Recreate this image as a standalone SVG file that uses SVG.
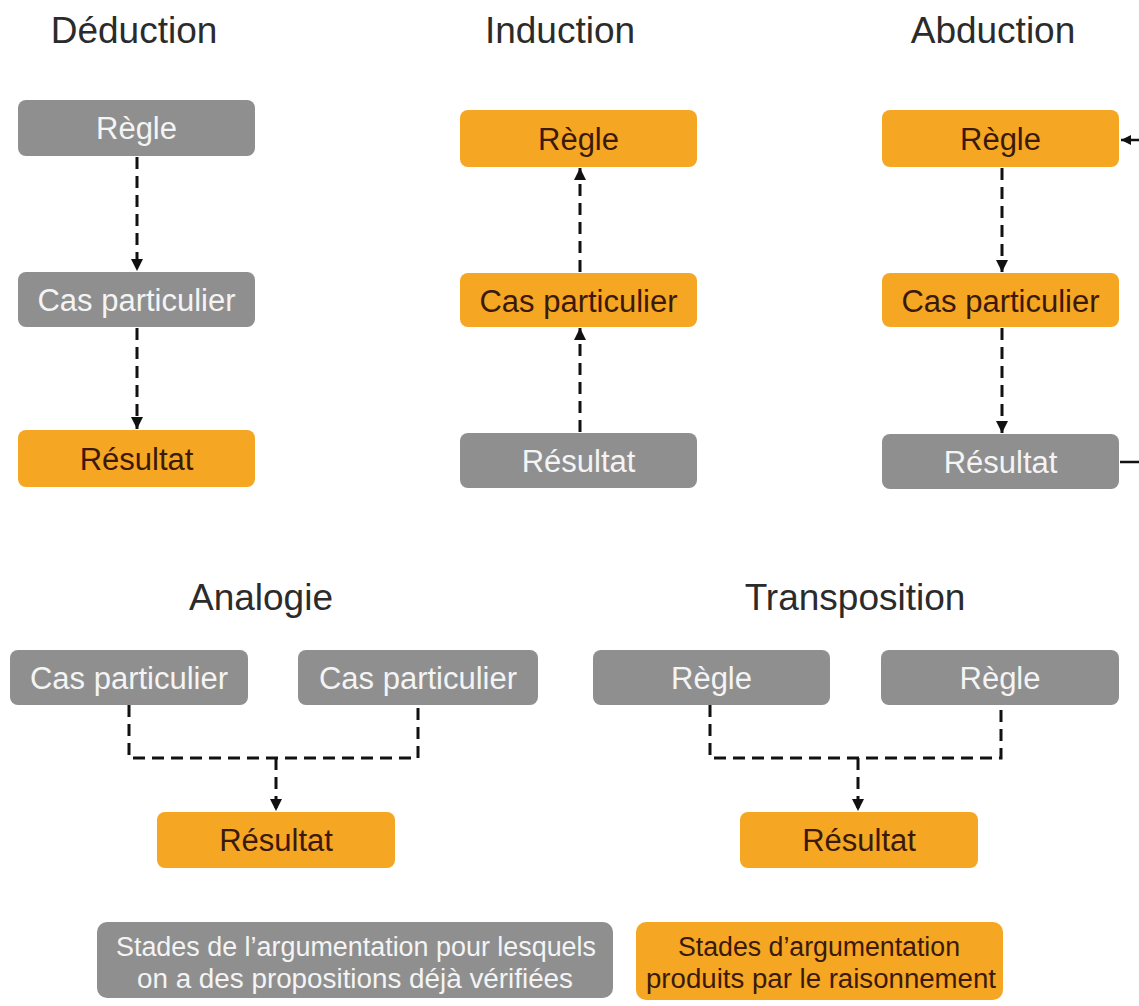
<svg xmlns="http://www.w3.org/2000/svg" width="1139" height="1006" viewBox="0 0 1139 1006">
  <style>
    .title { font-family: "Liberation Sans", Arial, sans-serif; font-size: 37px; fill: #2b2b2b; text-anchor: middle; }
    .box-g { fill: #8f8f8f; }
    .box-o { fill: #f5a623; }
    .lbl { font-family: "Liberation Sans", Arial, sans-serif; font-size: 31px; text-anchor: middle; }
    .lbl-g { fill: #f4f4f4; }
    .lbl-o { fill: #3b1a0c; }
    .leg { font-family: "Liberation Sans", Arial, sans-serif; font-size: 27px; text-anchor: middle; }
    .dash { fill: none; stroke: #111; stroke-width: 3; stroke-dasharray: 12 7; }
    .solid { fill: none; stroke: #111; stroke-width: 2.5; }
  </style>
  <defs>
    <marker id="arrow" viewBox="0 0 10 10" refX="10" refY="5" markerWidth="4" markerHeight="4" orient="auto" markerUnits="strokeWidth">
      <path d="M0,0 L10,5 L0,10 z" fill="#111"/>
    </marker>
  </defs>

  <rect width="1139" height="1006" fill="#ffffff"/>

  <!-- section titles -->
  <text class="title" x="134" y="43">Déduction</text>
  <text class="title" x="560" y="43">Induction</text>
  <text class="title" x="993" y="43">Abduction</text>
  <text class="title" x="261" y="610">Analogie</text>
  <text class="title" x="855" y="610">Transposition</text>

  <!-- connectors -->
  <g id="connectors">
    <!-- Déduction -->
    <path class="dash" d="M137,157 V271" marker-end="url(#arrow)"/>
    <path class="dash" d="M137,328 V429" marker-end="url(#arrow)"/>
    <!-- Induction -->
    <path class="dash" d="M580,432 V328" marker-end="url(#arrow)"/>
    <path class="dash" d="M580,272 V168" marker-end="url(#arrow)"/>
    <!-- Abduction -->
    <path class="dash" d="M1002,168 V272" marker-end="url(#arrow)"/>
    <path class="dash" d="M1002,328 V433" marker-end="url(#arrow)"/>
    <path class="solid" d="M1120,462 H1141 V140 H1121" marker-end="url(#arrow)"/>
    <!-- Analogie -->
    <path class="dash" d="M129,705 V758 H418 V705"/>
    <path class="dash" d="M276,758 V811" marker-end="url(#arrow)"/>
    <!-- Transposition -->
    <path class="dash" d="M710,705 V758 H1001 V705"/>
    <path class="dash" d="M858,758 V811" marker-end="url(#arrow)"/>
  </g>

  <!-- Déduction nodes -->
  <g id="ded-regle">
    <rect class="box-g" x="18" y="100" width="237" height="56" rx="8"/>
    <text class="lbl lbl-g" x="136.5" y="139">Règle</text>
  </g>
  <g id="ded-cas">
    <rect class="box-g" x="18" y="272" width="237" height="55" rx="8"/>
    <text class="lbl lbl-g" x="136.5" y="311">Cas particulier</text>
  </g>
  <g id="ded-resultat">
    <rect class="box-o" x="18" y="430" width="237" height="57" rx="8"/>
    <text class="lbl lbl-o" x="136.5" y="470">Résultat</text>
  </g>

  <!-- Induction nodes -->
  <g id="ind-regle">
    <rect class="box-o" x="460" y="110" width="237" height="57" rx="8"/>
    <text class="lbl lbl-o" x="578.5" y="150">Règle</text>
  </g>
  <g id="ind-cas">
    <rect class="box-o" x="460" y="273" width="237" height="54" rx="8"/>
    <text class="lbl lbl-o" x="578.5" y="312">Cas particulier</text>
  </g>
  <g id="ind-resultat">
    <rect class="box-g" x="460" y="433" width="237" height="55" rx="8"/>
    <text class="lbl lbl-g" x="578.5" y="472">Résultat</text>
  </g>

  <!-- Abduction nodes -->
  <g id="abd-regle">
    <rect class="box-o" x="882" y="110" width="237" height="57" rx="8"/>
    <text class="lbl lbl-o" x="1000.5" y="150">Règle</text>
  </g>
  <g id="abd-cas">
    <rect class="box-o" x="882" y="273" width="237" height="54" rx="8"/>
    <text class="lbl lbl-o" x="1000.5" y="312">Cas particulier</text>
  </g>
  <g id="abd-resultat">
    <rect class="box-g" x="882" y="434" width="237" height="55" rx="8"/>
    <text class="lbl lbl-g" x="1000.5" y="473">Résultat</text>
  </g>

  <!-- Analogie nodes -->
  <g id="ana-cas-1">
    <rect class="box-g" x="10" y="650" width="238" height="55" rx="8"/>
    <text class="lbl lbl-g" x="129" y="689">Cas particulier</text>
  </g>
  <g id="ana-cas-2">
    <rect class="box-g" x="298" y="650" width="240" height="55" rx="8"/>
    <text class="lbl lbl-g" x="418" y="689">Cas particulier</text>
  </g>
  <g id="ana-resultat">
    <rect class="box-o" x="157" y="812" width="238" height="56" rx="8"/>
    <text class="lbl lbl-o" x="276" y="851">Résultat</text>
  </g>

  <!-- Transposition nodes -->
  <g id="tra-regle-1">
    <rect class="box-g" x="593" y="650" width="237" height="55" rx="8"/>
    <text class="lbl lbl-g" x="711.5" y="689">Règle</text>
  </g>
  <g id="tra-regle-2">
    <rect class="box-g" x="881" y="650" width="238" height="55" rx="8"/>
    <text class="lbl lbl-g" x="1000" y="689">Règle</text>
  </g>
  <g id="tra-resultat">
    <rect class="box-o" x="740" y="812" width="238" height="56" rx="8"/>
    <text class="lbl lbl-o" x="859" y="851">Résultat</text>
  </g>

  <!-- legend -->
  <g id="legend-verified">
    <rect class="box-g" x="97" y="922" width="516" height="76" rx="10"/>
    <text class="leg lbl-g" x="356" y="956" textLength="480" lengthAdjust="spacingAndGlyphs">Stades de l’argumentation pour lesquels</text>
    <text class="leg lbl-g" x="355" y="988" textLength="436" lengthAdjust="spacingAndGlyphs">on a des propositions déjà vérifiées</text>
  </g>
  <g id="legend-produced">
    <rect class="box-o" x="636" y="922" width="367" height="78" rx="10"/>
    <text class="leg lbl-o" x="819" y="956" textLength="282" lengthAdjust="spacingAndGlyphs">Stades d’argumentation</text>
    <text class="leg lbl-o" x="821" y="988" textLength="350" lengthAdjust="spacingAndGlyphs">produits par le raisonnement</text>
  </g>
</svg>
